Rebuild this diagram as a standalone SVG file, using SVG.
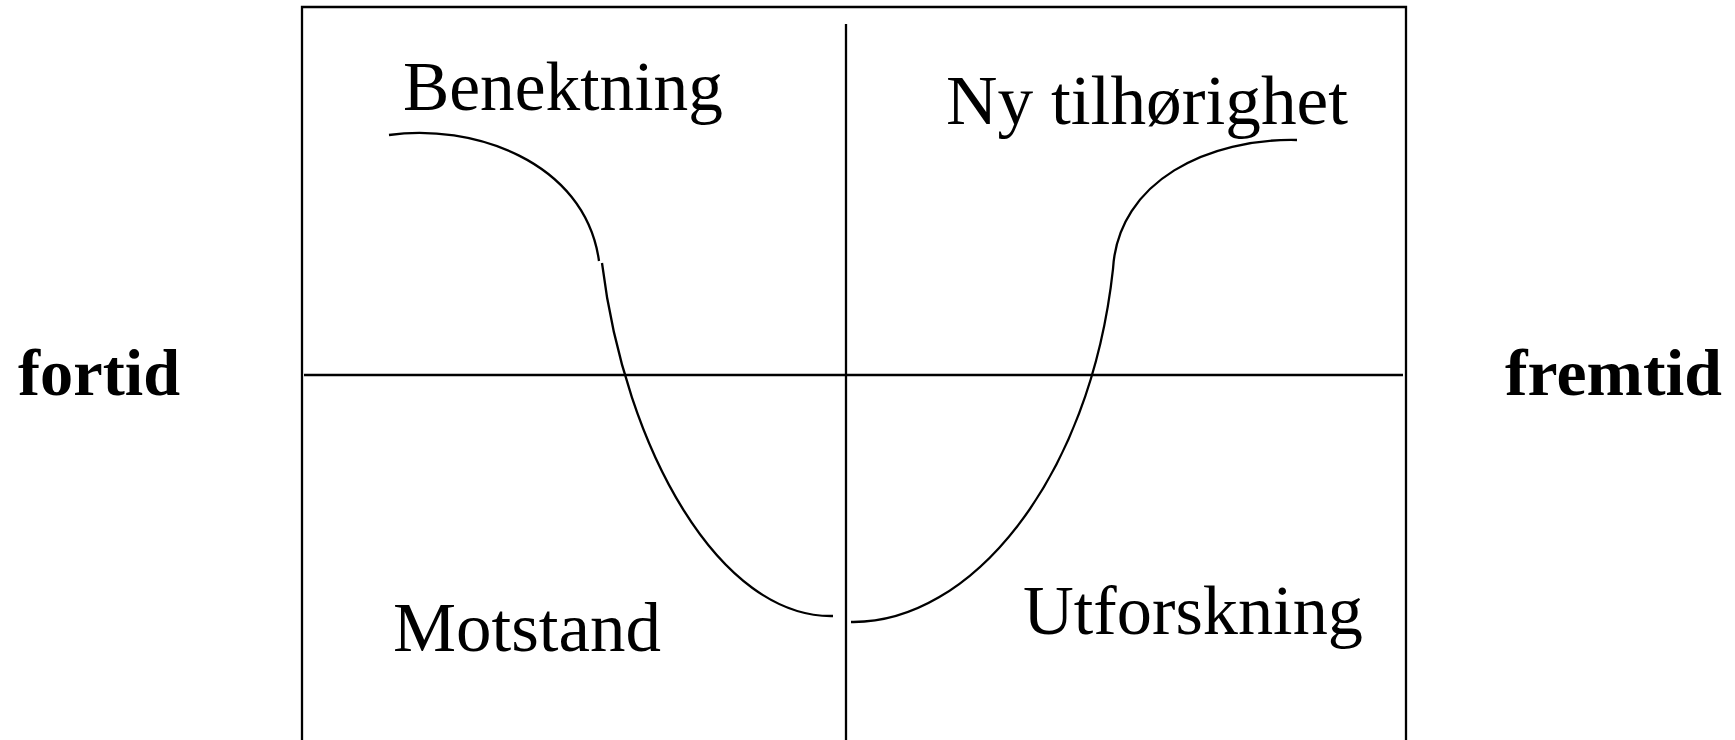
<svg xmlns="http://www.w3.org/2000/svg" width="1735" height="740" viewBox="0 0 1735 740">
<style>
.ln{fill:none;stroke:#000;stroke-width:2.3}
.cv{fill:none;stroke:#000;stroke-width:2.3}
.lbl{font-family:"Liberation Serif","Times New Roman",serif;font-size:70px;fill:#000}
.side{font-family:"Liberation Serif","Times New Roman",serif;font-size:65px;font-weight:bold;fill:#000}
</style>
<rect width="1735" height="740" fill="#fff"/>
<g id="frame">
<path class="ln" d="M302,740 V7 H1406 V740"/>
<line class="ln" x1="846" y1="24" x2="846" y2="740"/>
<line class="ln" x1="304" y1="375" x2="1403" y2="375"/>
</g>
<g id="connectors">
<path class="cv" d="M389,135 C470,123 585,160 599,261"/>
<path class="cv" d="M602,263 C625,450 720,618 833,616"/>
<path class="cv" d="M851,622 C970,624 1090,480 1113,269"/>
<path class="cv" d="M1113,269 C1118,180 1210,138 1297,140"/>
</g>
<g id="benektning"><text class="lbl" x="403" y="110" textLength="320" lengthAdjust="spacingAndGlyphs">Benektning</text></g>
<g id="ny-tilhorighet"><text class="lbl" x="946" y="124" textLength="402" lengthAdjust="spacingAndGlyphs">Ny tilhørighet</text></g>
<g id="motstand"><text class="lbl" x="393" y="651" textLength="268" lengthAdjust="spacingAndGlyphs">Motstand</text></g>
<g id="utforskning"><text class="lbl" x="1023" y="634" textLength="340" lengthAdjust="spacingAndGlyphs">Utforskning</text></g>
<g id="fortid"><text class="side" x="18" y="395" textLength="162" lengthAdjust="spacingAndGlyphs">fortid</text></g>
<g id="fremtid"><text class="side" x="1505" y="395" textLength="217" lengthAdjust="spacingAndGlyphs">fremtid</text></g>
</svg>
